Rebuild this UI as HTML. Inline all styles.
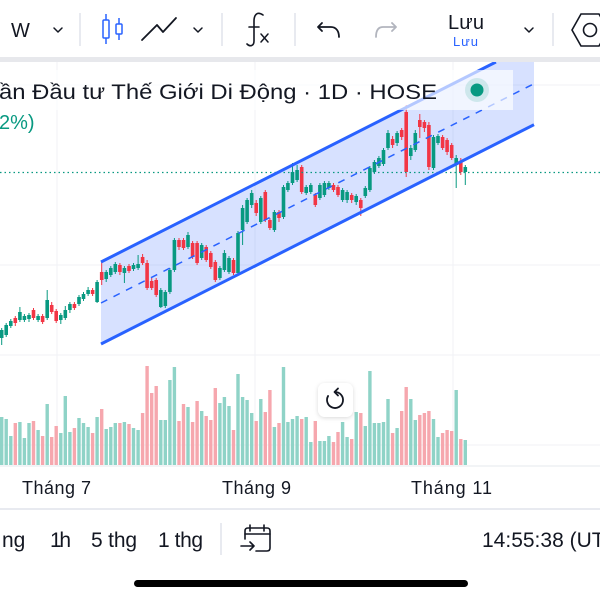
<!DOCTYPE html>
<html><head><meta charset="utf-8">
<style>
html,body{margin:0;padding:0;background:#fff;width:600px;height:600px;overflow:hidden}
svg{display:block}
text{font-family:"Liberation Sans","Noto Sans CJK JP",sans-serif;fill:#131722}
</style></head><body>
<svg width="600" height="600" viewBox="0 0 600 600" xmlns="http://www.w3.org/2000/svg">
<defs>
<clipPath id="pane"><rect x="0" y="62" width="600" height="404"/></clipPath>
<filter id="sh" x="-40%" y="-40%" width="180%" height="180%"><feDropShadow dx="0" dy="1" stdDeviation="2" flood-color="#000" flood-opacity="0.15"/></filter>
</defs>
<rect width="600" height="600" fill="#fff"/>

<!-- toolbar -->
<text x="11" y="37" font-size="20">W</text>
<g fill="none" stroke="#131722" stroke-width="1.5" stroke-linecap="round" stroke-linejoin="round">
<polyline points="54,28 58,32 62,28"/>
<polyline points="194,28 198,32 202,28"/>
<polyline points="525,28 529,32 533,28"/>
<polyline points="142,40 157,25 163,32 176,18" stroke-width="1.8"/>
<path d="M263 15 C257 11 254 15 254 21 V41 C254 46 250 47 247 44" stroke-width="1.6"/>
<path d="M249 27 H259" stroke-width="1.6"/>
<path d="M261 34 L268 42 M268 34 L261 42" stroke-width="1.5"/>
<path d="M322 23 L318 27 L322 31 M318 27 H331 C336 27 339 31 339 37" stroke-width="1.8"/>
</g>
<path d="M392 23 L396 27 L392 31 M396 27 H383 C378 27 376 31 376 37" fill="none" stroke="#b2b5be" stroke-width="1.8" stroke-linecap="round" stroke-linejoin="round"/>
<g stroke="#e0e3eb" stroke-width="1.5">
<line x1="80" y1="13" x2="80" y2="46"/>
<line x1="222" y1="13" x2="222" y2="46"/>
<line x1="295" y1="13" x2="295" y2="46"/>
<line x1="553" y1="13" x2="553" y2="46"/>
</g>
<g fill="none" stroke="#2962ff" stroke-width="1.5">
<rect x="103" y="20" width="6" height="18" rx="1"/>
<line x1="106" y1="14" x2="106" y2="20"/><line x1="106" y1="38" x2="106" y2="44"/>
<rect x="116" y="24" width="6" height="10" rx="1"/>
<line x1="119" y1="18" x2="119" y2="24"/><line x1="119" y1="34" x2="119" y2="40"/>
</g>
<text x="448" y="29" font-size="20" textLength="36">Lưu</text>
<text x="453" y="46" font-size="13" style="fill:#2962ff" textLength="25">Lưu</text>
<g fill="none" stroke="#131722" stroke-width="1.6">
<polygon points="572,30 581,14 599,14 608,30 599,46 581,46"/>
<circle cx="590" cy="30" r="6.5"/>
</g>
<rect x="0" y="57" width="600" height="5" fill="#e7e8ec"/>

<!-- grid -->
<g stroke="#f0f2f6" stroke-width="1">
<line x1="57" y1="62" x2="57" y2="466"/>
<line x1="255" y1="62" x2="255" y2="466"/>
<line x1="453" y1="62" x2="453" y2="466"/>
<line x1="0" y1="85" x2="600" y2="85"/>
<line x1="0" y1="265" x2="600" y2="265"/>
<line x1="0" y1="355" x2="600" y2="355"/>
<line x1="0" y1="445" x2="600" y2="445"/>
</g>

<g clip-path="url(#pane)">
<polygon points="101,262 495.9,62 534,62 534,124.7 101,344" fill="#2962ff" fill-opacity="0.19"/>

<path fill="none" stroke="#8fd3c7" stroke-width="3.4" d="M1.7 465V417M6.2 465V419M10.8 465V436M19.9 465V422M24.4 465V438M29 465V423M38.1 465V430M47.2 465V404M60.8 465V433M65.3 465V396M69.9 465V432M79 465V418M83.5 465V423M88.1 465V427M97.1 465V417M106.2 465V429M110.8 465V427M115.3 465V423M124.4 465V422M133.5 465V428M138.1 465V430M160.8 465V420M165.3 465V420M169.9 465V380M174.4 465V367M188 465V407M201.7 465V411M219.9 465V403M224.4 465V397M229 465V406M238 465V374M242.6 465V397M247.1 465V400M251.7 465V413M260.8 465V399M274.4 465V427M283.5 465V367M287.9 465V422M292.5 465V419M297.1 465V416M306.2 465V417M310.8 465V442M319.9 465V441M324.4 465V441M328.9 465V436M342.6 465V422M347.1 465V437M356.2 465V412M365.3 465V426M369.9 465V371M374.4 465V423M378.9 465V423M383.5 465V422M388 465V399M397.1 465V428M410.8 465V399M415.3 465V420M433.5 465V419M438 465V437M456.2 465V390M465.3 465V440"/>
<path fill="none" stroke="#f6a7ae" stroke-width="3.4" d="M15.3 465V423M33.5 465V421M42.6 465V436M51.7 465V437M56.2 465V426M74.4 465V428M92.6 465V433M101.7 465V409M119.9 465V423M129 465V424M142.6 465V413M147.1 465V366M151.7 465V393M156.2 465V386M179 465V421M183.5 465V404M192.6 465V422M197.1 465V401M206.2 465V416M210.8 465V420M215.3 465V388M233.5 465V430M256.2 465V421M265.3 465V412M269.9 465V390M279 465V423M301.7 465V419M315.3 465V421M333.5 465V442M338 465V432M351.7 465V439M360.8 465V413M392.6 465V433M401.7 465V411M406.2 465V387M419.8 465V415M424.4 465V413M428.9 465V411M442.6 465V433M447.1 465V430M451.7 465V431M460.8 465V439"/>

<path fill="none" stroke="#089981" stroke-width="1" d="M1.7 328V345M6.2 323V337M10.8 319V328M19.9 307V322M24.4 314V322M29 313V322M38.1 314V322M47.2 290V320M60.8 313V324M65.3 306V320M69.9 302V313M79 295V306M83.5 292V301M88.1 287V296M97.1 280V303M106.2 270V282M110.8 266V277M115.3 262V274M124.4 266V283M133.5 263V271M138.1 255V270M160.8 288V308M165.3 290V308M169.9 268V294M174.4 238V272M188 232V249M201.7 243V260M219.9 266V280M224.4 250V272M229 256V274M238 231V275M242.6 205V245M247.1 198V224M251.7 190V208M260.8 196V224M274.4 210V232M283.5 185V219M287.9 181V192M292.5 163V185M297.1 165V182M306.2 185V195M310.8 183V194M319.9 183V200M324.4 181V197M328.9 181V190M342.6 188V202M347.1 190V203M356.2 194V205M365.3 186V198M369.9 166V192M374.4 160V174M378.9 156V168M383.5 148V166M388 130V150M397.1 131V146M410.8 145V160M415.3 130V152M433.5 135V170M438 134V145M456.2 155V188M465.3 165V185"/>
<path fill="none" stroke="#089981" stroke-width="3.6" d="M1.7 330V338M6.2 325V335M10.8 321V326M19.9 312V320M24.4 316V320M29 315V319M38.1 316V320M47.2 300V318M60.8 315V320M65.3 310V318M69.9 304V310M79 297V304M83.5 294V299M88.1 290V294M97.1 282V302M106.2 272V279M110.8 268V275M115.3 264V272M124.4 268V273M133.5 265V269M138.1 264V268M160.8 290V307M165.3 292V306M169.9 270V292M174.4 240V270M188 235V247M201.7 245V258M219.9 268V278M224.4 253V270M229 258V272M238 233V273M242.6 208V230M247.1 200V222M251.7 193V205M260.8 198V222M274.4 212V230M283.5 187V217M287.9 183V190M292.5 172V183M297.1 170V180M306.2 187V193M310.8 185V192M319.9 185V198M324.4 183V195M328.9 183V188M342.6 190V200M347.1 192V200M356.2 196V202M365.3 188V196M369.9 168V190M374.4 162V172M378.9 158V166M383.5 150V164M388 133V148M397.1 133V143M410.8 148V156M415.3 133V150M433.5 137V168M438 136V143M456.2 158V165M465.3 167V172"/>
<path fill="none" stroke="#f23645" stroke-width="1" d="M15.3 316V326M33.5 308V320M42.6 314V324M51.7 302V314M56.2 309V323M74.4 302V310M92.6 288V296M101.7 262V285M119.9 263V275M129 264V273M142.6 254V265M147.1 260V290M151.7 278V290M156.2 278V297M179 238V250M183.5 238V250M192.6 241V259M197.1 241V265M206.2 245V262M210.8 251V269M215.3 260V282M233.5 258V275M256.2 200V216M265.3 190V222M269.9 218V230M279 210V222M301.7 165V194M315.3 193V207M333.5 183V192M338 185V197M351.7 193V203M360.8 198V216M392.6 136V148M401.7 128V140M406.2 105V177M419.8 114V138M424.4 120V132M428.9 122V170M442.6 135V150M447.1 138V155M451.7 143V160M460.8 158V175"/>
<path fill="none" stroke="#f23645" stroke-width="3.6" d="M15.3 318V323M33.5 310V318M42.6 316V322M51.7 305V312M56.2 311V321M74.4 304V308M92.6 290V294M101.7 272V280M119.9 265V272M129 266V271M142.6 257V263M147.1 263V288M151.7 281V288M156.2 280V295M179 240V247M183.5 240V248M192.6 243V257M197.1 243V263M206.2 247V260M210.8 253V267M215.3 262V280M233.5 260V273M256.2 203V213M265.3 192V220M269.9 220V228M279 212V218M301.7 167V192M315.3 195V205M333.5 185V190M338 187V195M351.7 195V200M360.8 200V208M392.6 139V145M401.7 130V137M406.2 112V172M419.8 120V127M424.4 122V128M428.9 125V167M442.6 137V148M447.1 140V152M451.7 145V158M460.8 162V172"/>

<line x1="0" y1="172.5" x2="600" y2="172.5" stroke="#089981" stroke-width="1.3" stroke-dasharray="1.5 3"/>

<line x1="101" y1="262" x2="495.9" y2="62" stroke="#2962ff" stroke-width="3"/>
<line x1="101" y1="344" x2="534" y2="124.7" stroke="#2962ff" stroke-width="3"/>
<line x1="101" y1="303" x2="534" y2="83.7" stroke="#2962ff" stroke-width="1.5" stroke-dasharray="7 7"/>
</g>

<rect x="0" y="70" width="513" height="40" fill="#fff" fill-opacity="0.65"/>
<text x="-1" y="99" font-size="21" textLength="438" lengthAdjust="spacingAndGlyphs">ần Đầu tư Thế Giới Di Động · 1D · HOSE</text>
<text x="-1" y="129" font-size="20" style="fill:#089981">2%)</text>
<circle cx="477" cy="90" r="12" fill="#089981" fill-opacity="0.15"/>
<circle cx="477" cy="90" r="6.5" fill="#089981"/>

<rect x="318" y="383" width="35" height="34" rx="7" fill="#fff" filter="url(#sh)"/>
<path d="M335 392 A8 8 0 1 1 328.1 396" fill="none" stroke="#131722" stroke-width="1.8" stroke-linecap="round"/>
<path d="M338 388.5 L334.5 392 L338 395.5" fill="none" stroke="#131722" stroke-width="1.8" stroke-linecap="round" stroke-linejoin="round"/>

<line x1="0" y1="466" x2="600" y2="466" stroke="#e6e8ee" stroke-width="1"/>
<text x="22" y="494" font-size="18" textLength="69">Tháng 7</text>
<text x="222" y="494" font-size="18" textLength="69">Tháng 9</text>
<text x="411" y="494" font-size="18" textLength="81">Tháng 11</text>
<line x1="0" y1="509" x2="600" y2="509" stroke="#e0e3eb" stroke-width="1.5"/>

<text x="2" y="547" font-size="21">ng</text>
<text x="50" y="547" font-size="21" textLength="21">1h</text>
<text x="91" y="547" font-size="21" textLength="46">5 thg</text>
<text x="158" y="547" font-size="21" textLength="45">1 thg</text>
<line x1="221" y1="523" x2="221" y2="555" stroke="#e0e3eb" stroke-width="1.5"/>
<g fill="none" stroke="#131722" stroke-width="1.6" stroke-linecap="round" stroke-linejoin="round">
<path d="M245 539 V531 Q245 528 248 528 H267 Q270 528 270 531 V548 Q270 551 267 551 H256"/>
<path d="M245 534 H270 M250 525 V531 M264 525 V531"/>
<path d="M241 546 H254 M250 542 L254 546 L250 550"/>
</g>
<text x="482" y="547" font-size="21">14:55:38 (UTC</text>

<rect x="134" y="580" width="334" height="7" rx="3.5" fill="#000"/>
</svg>
</body></html>
